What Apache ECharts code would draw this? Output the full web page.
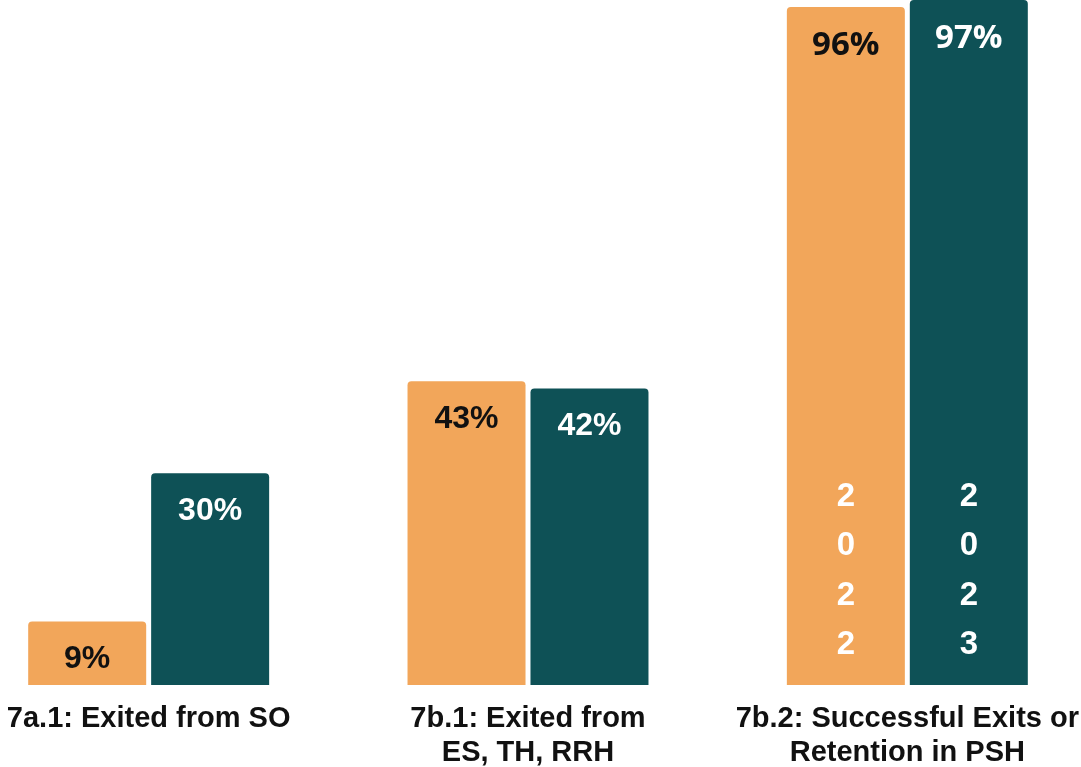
<!DOCTYPE html>
<html>
<head>
<meta charset="utf-8">
<script src="https://cdn.jsdelivr.net/npm/echarts@6/dist/echarts.min.js"></script>
<style>
  html, body { margin: 0; padding: 0; background: #fff; }
  #chart { width: 1081px; height: 767px; }
</style>
</head>
<body>
<div id="chart"></div>
<script>
// categories and values
var categories = ['7a.1: Exited from SO', '7b.1: Exited from\nES, TH, RRH', '7b.2: Successful Exits or\nRetention in PSH'];
var years = ['2022', '2023'];
var values2022 = [9, 43, 96];
var values2023 = [30, 42, 97];
// which category shows the year written down the bar
var yearCategory = 2;

var colors = ['#F2A65A', '#0E5156'];
var labelColors = ['#111111', '#ffffff'];
var sansFont = 'Liberation Sans';

var chart = echarts.init(document.getElementById('chart'));

//value bars
function barSeries(name, vals, idx){
	return {
		name: name,
		type: 'bar',
		xAxisIndex: 0,
		yAxisIndex: 0,
		barWidth: 118,
		barGap: '4.2%',
		itemStyle: { color: colors[idx], borderRadius: [4, 4, 0, 0] },
		label: {
			show: true,
			position: 'insideTop',
			distance: 22,
			color: labelColors[idx],
			fontFamily: sansFont,
			fontWeight: 'bold',
			fontSize: 32,
			formatter: '{c}%'
		},
		data: vals.map(function(v, i){
			var d = { value: v };
			if(i == yearCategory){
				d.label = { fontFamily: 'Open Sans', fontSize: 33 };
			}
			return d;
		})
	};
}

//year written vertically, on an overlaid copy of the axes
function yearSeries(name, vals, idx){
	return {
		name: name,
		type: 'bar',
		xAxisIndex: 1,
		yAxisIndex: 1,
		barWidth: 118,
		barGap: '4.2%',
		silent: true,
		itemStyle: { color: 'transparent' },
		label: {
			show: true,
			position: 'insideBottom',
			distance: 15,
			color: '#ffffff',
			fontFamily: sansFont,
			fontWeight: 'bold',
			fontSize: 33,
			lineHeight: 49.5,
			formatter: function(p){ return p.seriesName.split('').join('\n'); }
		},
		data: vals.map(function(v, i){ return i == yearCategory ? v : '-'; })
	};
}

var xAxisBase = {
	type: 'category',
	data: categories,
	axisLine: { show: false },
	axisTick: { show: false }
};

var gridBase = { left: -41, right: -16, top: 0, bottom: 82, containLabel: false, outerBoundsMode: 'none' };

chart.setOption({
	animation: false,
	grid: [ Object.assign({}, gridBase), Object.assign({}, gridBase) ],
	xAxis: [
		Object.assign({}, xAxisBase, {
			gridIndex: 0,
			axisLabel: {
				interval: 0,
				margin: 17,
				color: '#111111',
				fontFamily: sansFont,
				fontWeight: 'bold',
				fontSize: 29,
				lineHeight: 34,
				hideOverlap: false
			}
		}),
		Object.assign({}, xAxisBase, { gridIndex: 1, axisLabel: { show: false } })
	],
	yAxis: [
		{ type: 'value', gridIndex: 0, min: 0, max: 97, show: false, splitLine: { show: false } },
		{ type: 'value', gridIndex: 1, min: 0, max: 97, show: false, splitLine: { show: false } }
	],
	series: [
		barSeries(years[0], values2022, 0),
		barSeries(years[1], values2023, 1),
		yearSeries(years[0], values2022, 0),
		yearSeries(years[1], values2023, 1)
	]
});
</script>
</body>
</html>
